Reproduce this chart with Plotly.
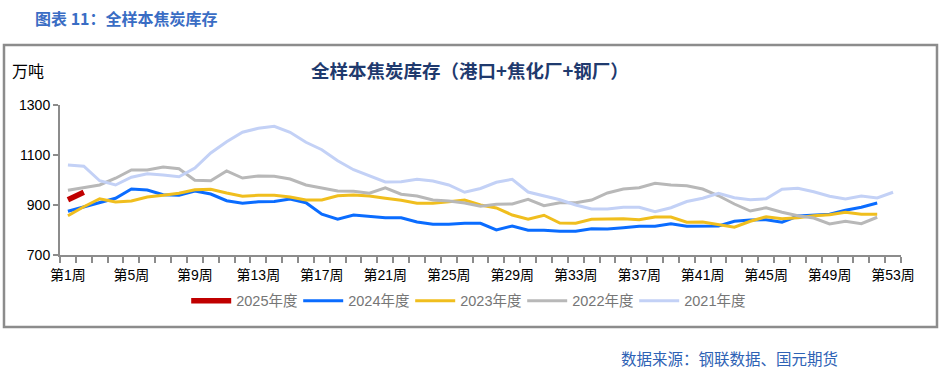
import plotly.graph_objects as go

weeks = list(range(1, 54))
tick_weeks = list(range(1, 54, 4))
tick_labels = [f"第{w}周" for w in tick_weeks]

y2025 = [921, 951]
y2024 = [875, 892, 912, 927, 964, 960, 941, 939, 956, 944, 917, 907, 913, 914,
         924, 909, 863, 843, 860, 855, 849, 849, 832, 823, 823, 827, 827,
         800, 816, 799, 799, 795, 795, 805, 804, 809, 815, 815, 825, 815,
         816, 816, 835, 840, 841, 831, 856, 860, 863, 879, 891, 908]
y2023 = [857, 893, 925, 912, 916, 932, 939, 947, 961, 963, 948, 935, 939, 939,
         932, 920, 920, 937, 940, 936, 927, 919, 907, 907, 913, 920, 900,
         888, 860, 843, 859, 828, 827, 843, 844, 845, 841, 852, 852, 831,
         832, 820, 811, 835, 853, 845, 849, 857, 861, 871, 863, 863]
y2022 = [959, 971, 980, 1007, 1040, 1040, 1052, 1045, 999, 997, 1036, 1008, 1016, 1015,
         1004, 980, 969, 956, 955, 947, 969, 943, 936, 920, 916, 908, 895,
         903, 904, 923, 897, 909, 909, 920, 948, 964, 969, 987, 980, 977,
         964, 937, 904, 876, 889, 871, 857, 848, 824, 835, 825, 851]
y2021 = [1060, 1055, 997, 980, 1011, 1025, 1020, 1013, 1048, 1108, 1153, 1191, 1207, 1215,
         1191, 1151, 1121, 1077, 1041, 1015, 992, 993, 1003, 996, 980, 951, 966,
         991, 1003, 952, 937, 921, 900, 884, 884, 891, 891, 873, 889, 914,
         927, 947, 929, 921, 925, 963, 967, 953, 935, 924, 936, 928, 951]

series = [
    ("2025年度", y2025, "#C00000", 5.5),
    ("2024年度", y2024, "#0A6CFF", 3),
    ("2023年度", y2023, "#F0BE1E", 3),
    ("2022年度", y2022, "#B8B8B8", 3),
    ("2021年度", y2021, "#C3D1F6", 3),
]

fig = go.Figure()
for name, vals, color, w in series:
    fig.add_trace(go.Scatter(
        x=weeks[:len(vals)], y=vals, mode="lines", name=name,
        line=dict(color=color, width=w),
    ))

font_main = "Liberation Sans, Arial, Noto Sans CJK SC, sans-serif"

fig.update_layout(
    width=943, height=373,
    margin=dict(l=60, r=42, t=105, b=118),
    paper_bgcolor="white", plot_bgcolor="white",
    font=dict(family=font_main, size=14, color="#000000"),
    showlegend=True,
    legend=dict(
        orientation="h", x=0.483, xanchor="center", y=-0.305, yanchor="middle",
        font=dict(size=14.5, color="#767676"),
        itemwidth=40, entrywidth=57, entrywidthmode="pixels",
    ),
    xaxis=dict(
        range=[0.5, 53.5], tickmode="array", tickvals=tick_weeks, ticktext=tick_labels,
        ticks="", showgrid=False, zeroline=False,
        showline=True, linecolor="#8C8C8C", linewidth=2,
        tickfont=dict(size=14, color="#000000"),
        ticklabelstandoff=6,
        minor=dict(tickmode="array", tickvals=[w + 0.5 for w in [0] + weeks],
                   ticks="outside", ticklen=6, tickwidth=2, tickcolor="#8C8C8C",
                   showgrid=False),
    ),
    yaxis=dict(
        range=[700, 1300], tickmode="array", tickvals=[700, 900, 1100, 1300],
        ticks="outside", ticklen=5, tickwidth=2, tickcolor="#8C8C8C",
        showgrid=False, zeroline=False,
        showline=True, linecolor="#8C8C8C", linewidth=2,
        tickfont=dict(size=14, color="#000000"),
    ),
)

# outer frame
fig.add_shape(type="rect", xref="paper", yref="paper",
              x0=-0.0666, x1=1.0428, y0=-0.48, y1=1.4,
              line=dict(color="#8C8C8C", width=2.5), fillcolor="rgba(0,0,0,0)",
              layer="below")

fig.add_annotation(text="<b>图表 11：全样本焦炭库存</b>", xref="paper", yref="paper",
                   x=-0.0321, y=1.58, xanchor="left", yanchor="middle", showarrow=False,
                   font=dict(size=16, color="#3A6DC4", family="Noto Sans CJK SC, sans-serif"))
fig.add_annotation(text="万吨", xref="paper", yref="paper",
                   x=-0.0595, y=1.233, xanchor="left", yanchor="middle", showarrow=False,
                   font=dict(size=16, color="#000000", family="Noto Sans CJK SC, sans-serif"))
fig.add_annotation(text="<b>全样本焦炭库存（港口+焦化厂+钢厂）</b>", xref="paper", yref="paper",
                   x=0.4875, y=1.233, xanchor="center", yanchor="middle", showarrow=False,
                   font=dict(size=18.5, color="#1F3A6E", family="Noto Sans CJK SC, sans-serif"))
fig.add_annotation(text="数据来源：钢联数据、国元期货", xref="paper", yref="paper",
                   x=0.665, y=-0.687, xanchor="left", yanchor="middle", showarrow=False,
                   font=dict(size=15.5, color="#2E62B5", family="Noto Sans CJK SC, sans-serif"))

fig.write_html("out.html",
               config={"displayModeBar": False},
               post_script="document.body.style.margin='0';document.body.style.overflow='hidden';")
